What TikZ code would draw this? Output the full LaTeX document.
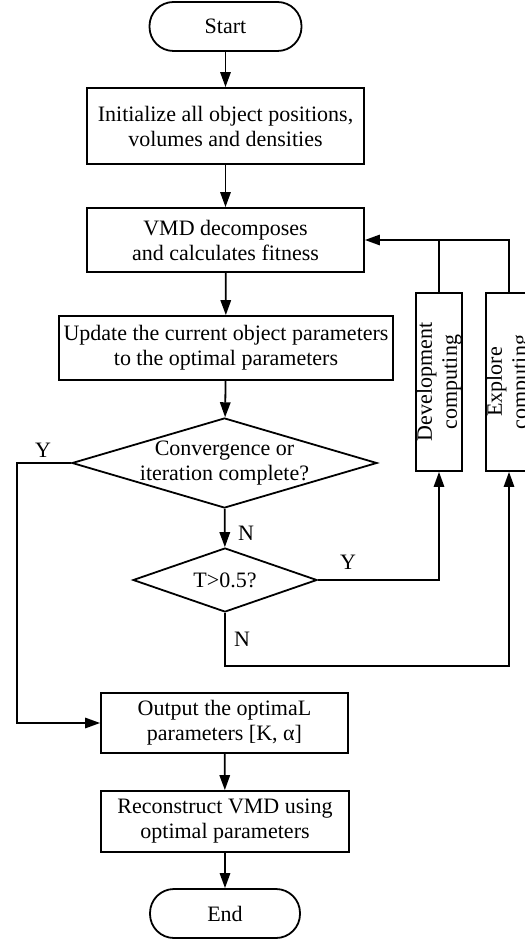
\documentclass[tikz,border=0pt]{standalone}
\usepackage{fontspec}
\setmainfont{Liberation Serif}
\usetikzlibrary{arrows.meta,shapes.geometric}

\tikzset{
  flowline/.style={line width=0.9pt},
  arr/.style={flowline, -{Triangle[length=7.5pt,width=5.2pt]}},
  termbox/.style={draw, line width=0.9pt, rectangle, rounded corners=12pt,
    minimum width=76pt, minimum height=24.5pt, inner sep=0pt},
  procbox/.style={draw, line width=0.9pt, rectangle, align=center, inner sep=0pt},
  decbox/.style={draw, line width=0.9pt, diamond, inner sep=0pt},
  sidebox/.style={draw, line width=0.9pt, rectangle, inner sep=0pt,
    minimum width=23pt, minimum height=89pt},
  yn/.style={inner sep=0pt}
}

\begin{document}
\begin{tikzpicture}[x=0.5pt, y=-0.5pt, font=\fontsize{11}{12.5}\selectfont]
			%%%%% START %%%%%
			\useasboundingbox (0,0) rectangle (524,940);

			\node[termbox] (start) at (225.5, 26.5) {Start};
			\node[procbox, minimum width=138.5pt, minimum height=38pt] (init) at (225.5, 126)
				{Initialize all object positions,\\volumes and densities};
			\node[procbox, minimum width=138.5pt, minimum height=32pt] (vmd) at (225.5, 240)
				{VMD decomposes\\and calculates fitness};
			\node[procbox, minimum width=167pt, minimum height=32pt] (update) at (226, 348)
				{Update the current object parameters\\to the optimal parameters};

			\node[decbox, minimum width=152.5pt, minimum height=45pt,
				label={[align=center]center:Convergence or\\iteration complete?}] (conv) at (224.5, 463) {};
			\node[decbox, minimum width=92pt, minimum height=32pt,
				label={center:T>0.5?}] (test) at (225, 580) {};

			\node[sidebox, label={[rotate=90, align=center]center:Development\\computing}] (dev) at (439, 382) {};
			\node[sidebox, label={[rotate=90, align=center]center:Explore\\computing}] (explore) at (509, 382) {};

			\node[procbox, minimum width=123.5pt, minimum height=30pt] (output) at (224.5, 723)
				{Output the optimaL\\parameters [K, α]};
			\node[procbox, minimum width=124pt, minimum height=30.5pt] (recon) at (225, 821.5)
				{Reconstruct VMD using\\optimal parameters};
			\node[termbox, minimum width=75pt] (end) at (225, 913.5) {End};

			% yes / no labels
			\node[yn] (y1) at (43, 450) {Y};
			\node[yn] (n1) at (246, 533) {N};
			\node[yn] (y2) at (348, 562) {Y};
			\node[yn] (n2) at (242, 639) {N};

			\coordinate (yturn) at (17, 463);
			\coordinate (nturn) at (225, 666);

			% main column
			\draw[arr] (start) -- (init);
			\draw[arr] (init) -- (vmd);
			\draw[arr] (vmd) -- (update);
			\draw[arr] (update) -- (conv);
			\draw[arr] (conv) -- (test);
			\draw[arr] (output) -- (recon);
			\draw[arr] (recon) -- (end);

			% branches
			\draw[arr] (conv.west) -- (yturn) |- (output.west);
			\draw[arr] (test.east) -| (dev.south);
			\draw[arr] (test.south) -- (nturn) -| (explore.south);

			% feedback
			\draw[arr] (dev.north) |- (vmd.east);
			\draw[flowline] (explore.north) |- (dev.north |- vmd.east);
			%%%%% END %%%%%
\end{tikzpicture}
\end{document}
